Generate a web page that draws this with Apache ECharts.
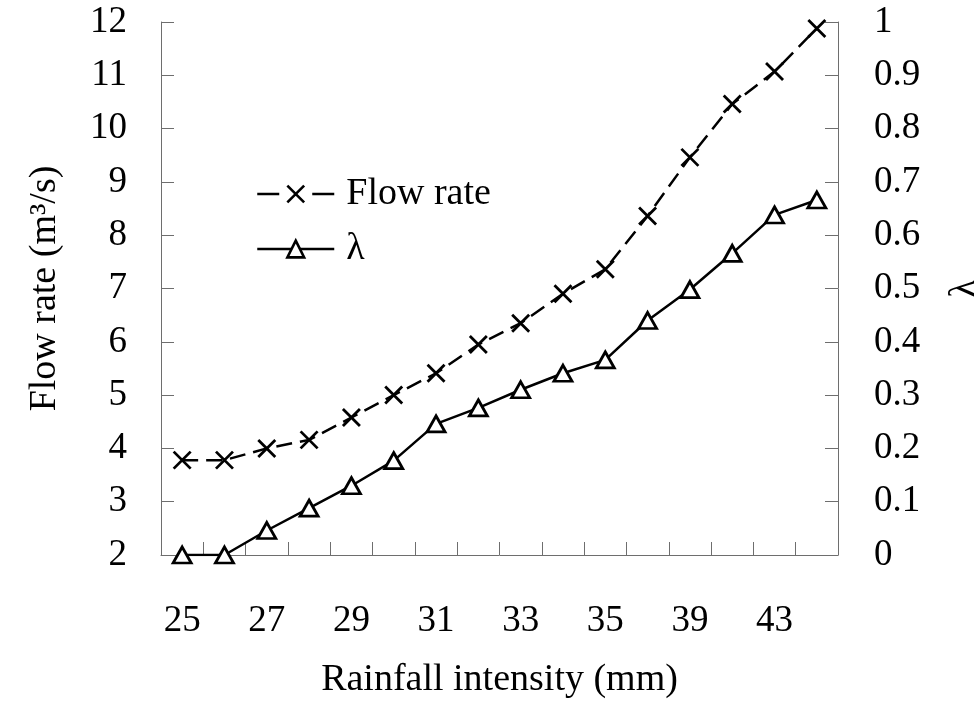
<!DOCTYPE html>
<html>
<head>
<meta charset="utf-8">
<script src="https://cdn.jsdelivr.net/npm/echarts@6/dist/echarts.min.js"></script>
<style>html,body{margin:0;padding:0;background:#fff;overflow:hidden;width:974px;height:711px}#c{display:block;width:974px;height:711px}</style>
</head>
<body>
<div id="c"></div>
<script>
var categories = ['25','26','27','28','29','30','31','32','33','34','35','37','39','41','43','45'];
var flowRate = [3.78, 3.78, 4.0, 4.16, 4.58, 5.0, 5.41, 5.95, 6.35, 6.9, 7.36, 8.36, 9.46, 10.46, 11.07, 11.88];
var lambdaVals = [0, 0, 0.046, 0.088, 0.13, 0.177, 0.246, 0.276, 0.31, 0.341, 0.366, 0.44, 0.498, 0.566, 0.638, 0.666];
var seriesNames = ['Flow rate', 'λ'];
var xName = 'Rainfall intensity (mm)';
var yLeftName = 'Flow rate (m³/s)';
var yRightName = 'λ';

var FONT = 'Liberation Serif';
var axisColor = '#6e6e6e';
var chart = echarts.init(document.getElementById('c'), null, {renderer: 'canvas', width: 974, height: 711});
chart.setOption({
  animation: false,
  backgroundColor: '#fff',
  grid: {left: 161, right: 136, top: 22, bottom: 156, containLabel: false, outerBoundsMode: 'none'},
  legend: {
    orient: 'vertical', left: 251, top: 170, itemGap: 17,
    itemWidth: 77, itemHeight: 21,
    itemStyle: {borderWidth: 2.6},
    lineStyle: {width: 2.5},
    data: [
      {name: seriesNames[0], lineStyle: {type: [22, 33], width: 2.5}},
      {name: seriesNames[1]}
    ],
    textStyle: {fontFamily: FONT, fontSize: 38, color: '#000', padding: [0, 0, 0, 7]}
  },
  xAxis: {
    type: 'category', data: categories, boundaryGap: true,
    name: xName, nameLocation: 'middle', nameGap: 106,
    nameTextStyle: {fontFamily: FONT, fontSize: 38, color: '#000'},
    axisLine: {show: true, lineStyle: {color: axisColor, width: 1}},
    axisTick: {show: true, inside: true, length: 13, interval: 0, lineStyle: {color: axisColor, width: 1}},
    axisLabel: {interval: 1, margin: 48, fontFamily: FONT, fontSize: 37, color: '#000'},
    splitLine: {show: false}
  },
  yAxis: [{
    type: 'value', min: 2, max: 12, interval: 1, position: 'left',
    name: yLeftName, nameLocation: 'middle', nameGap: 97,
    nameTextStyle: {fontFamily: FONT, fontSize: 38, color: '#000'},
    axisLine: {show: true, lineStyle: {color: axisColor, width: 1}},
    axisTick: {show: true, inside: true, length: 13, lineStyle: {color: axisColor, width: 1}},
    axisLabel: {margin: 34, fontFamily: FONT, fontSize: 37, color: '#000'},
    splitLine: {show: false}
  }, {
    type: 'value', min: 0, max: 1, interval: 0.1, position: 'right',
    name: yRightName, nameLocation: 'middle', nameGap: 108,
    nameTextStyle: {fontFamily: FONT, fontSize: 38, color: '#000'},
    axisLine: {show: true, lineStyle: {color: axisColor, width: 1}},
    axisTick: {show: true, inside: true, length: 13, lineStyle: {color: axisColor, width: 1}},
    axisLabel: {margin: 36, fontFamily: FONT, fontSize: 37, color: '#000'},
    splitLine: {show: false}
  }],
  series: [{
    name: seriesNames[0], type: 'line', yAxisIndex: 0, data: flowRate,
    symbol: 'path://M0,0L10,10M10,0L0,10', symbolSize: 17,
    lineStyle: {color: '#000', width: 2.5, type: [16, 8]},
    itemStyle: {color: '#000', borderColor: '#000', borderWidth: 2.8},
    z: 3
  }, {
    name: seriesNames[1], type: 'line', yAxisIndex: 1, data: lambdaVals,
    symbol: 'triangle', symbolSize: [18, 16],
    lineStyle: {color: '#000', width: 2.5, type: 'solid'},
    itemStyle: {color: '#fff', borderColor: '#000', borderWidth: 2.8},
    z: 2
  }]
});
</script>
</body>
</html>
